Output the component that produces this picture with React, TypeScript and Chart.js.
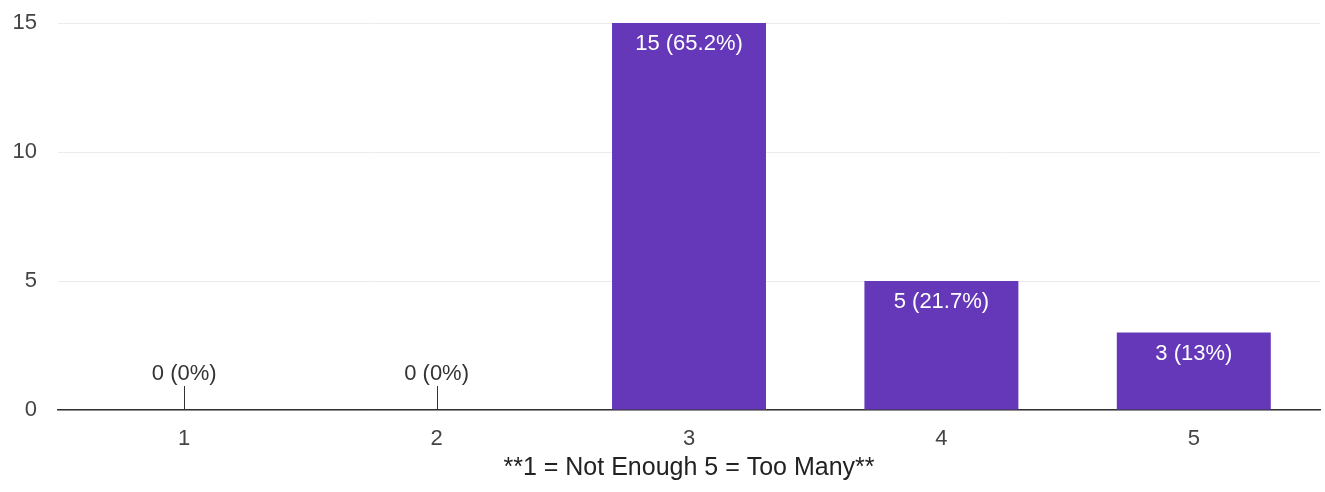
import React, { useEffect, useRef } from "react";
import { Chart, registerables } from "chart.js";
Chart.register(...registerables);

const categories = ["1", "2", "3", "4", "5"];
const counts = [0, 0, 15, 5, 3];
const percentLabels = ["0%", "0%", "65.2%", "21.7%", "13%"];
const yTicks = [0, 5, 10, 15];
const xTitle = "**1 = Not Enough 5 = Too Many**";
const FONT = "'Liberation Sans', Arial, sans-serif";

const labelPlugin = {
  id: "barLabels",
  afterDatasetsDraw(chart: any) {
    const ctx = chart.ctx;
    const meta = chart.getDatasetMeta(0);
    const yScale = chart.scales.y;
    const zeroY = yScale.getPixelForValue(0);
    ctx.save();
    ctx.font = `22px ${FONT}`;
    ctx.textAlign = "center";
    meta.data.forEach((bar: any, i: number) => {
      const text = `${counts[i]} (${percentLabels[i]})`;
      if (counts[i] === 0) {
        ctx.strokeStyle = "#333";
        ctx.lineWidth = 1;
        ctx.beginPath();
        ctx.moveTo(Math.round(bar.x) + 0.5, zeroY);
        ctx.lineTo(Math.round(bar.x) + 0.5, zeroY - 24);
        ctx.stroke();
        ctx.fillStyle = "#333";
        ctx.textBaseline = "middle";
        ctx.fillText(text, bar.x, zeroY - 36);
      } else {
        ctx.fillStyle = "#ffffff";
        ctx.textBaseline = "middle";
        ctx.fillText(text, bar.x, bar.y + 21);
      }
    });
    ctx.restore();
  },
};

export default function App() {
  const ref = useRef<HTMLCanvasElement>(null);
  useEffect(() => {
    document.body.style.margin = "0";
    const chart = new Chart(ref.current!, {
      type: "bar",
      data: {
        labels: categories,
        datasets: [
          {
            data: counts,
            backgroundColor: "#6538b9",
            barPercentage: 0.61,
            categoryPercentage: 1,
          },
        ],
      },
      options: {
        animation: false,
        responsive: false,
        devicePixelRatio: 1,
        layout: { padding: { top: 23, right: 5, left: 0, bottom: 0 } },
        plugins: { legend: { display: false }, tooltip: { enabled: false } },
        scales: {
          x: {
            grid: { display: false, drawTicks: false },
            border: { display: true, color: "#333", width: 1.5 },
            ticks: { color: "#444", font: { family: FONT, size: 22 }, padding: 16 },
            title: {
              display: true,
              text: xTitle,
              color: "#222",
              font: { family: FONT, size: 25 },
              padding: { top: 0, bottom: 9 },
            },
            afterFit: (s: any) => {
              s.height = 82;
              s.paddingLeft = 0;
              s.paddingRight = 0;
            },
          },
          y: {
            min: 0,
            max: 15,
            afterBuildTicks: (s: any) => {
              s.ticks = yTicks.map((v) => ({ value: v }));
            },
            grid: { color: "#ebebeb", lineWidth: 1, drawTicks: false },
            border: { display: false },
            ticks: { color: "#444", font: { family: FONT, size: 22 }, padding: 21 },
            afterFit: (s: any) => {
              s.width = 58;
              s.paddingTop = 0;
              s.paddingBottom = 0;
            },
          },
        },
      },
      plugins: [labelPlugin],
    });
    return () => chart.destroy();
  }, []);
  return (
    <div style={{ position: "absolute", left: 0, top: 0, width: 1325, height: 492, background: "#fff" }}>
      <canvas ref={ref} width={1325} height={492} />
    </div>
  );
}
